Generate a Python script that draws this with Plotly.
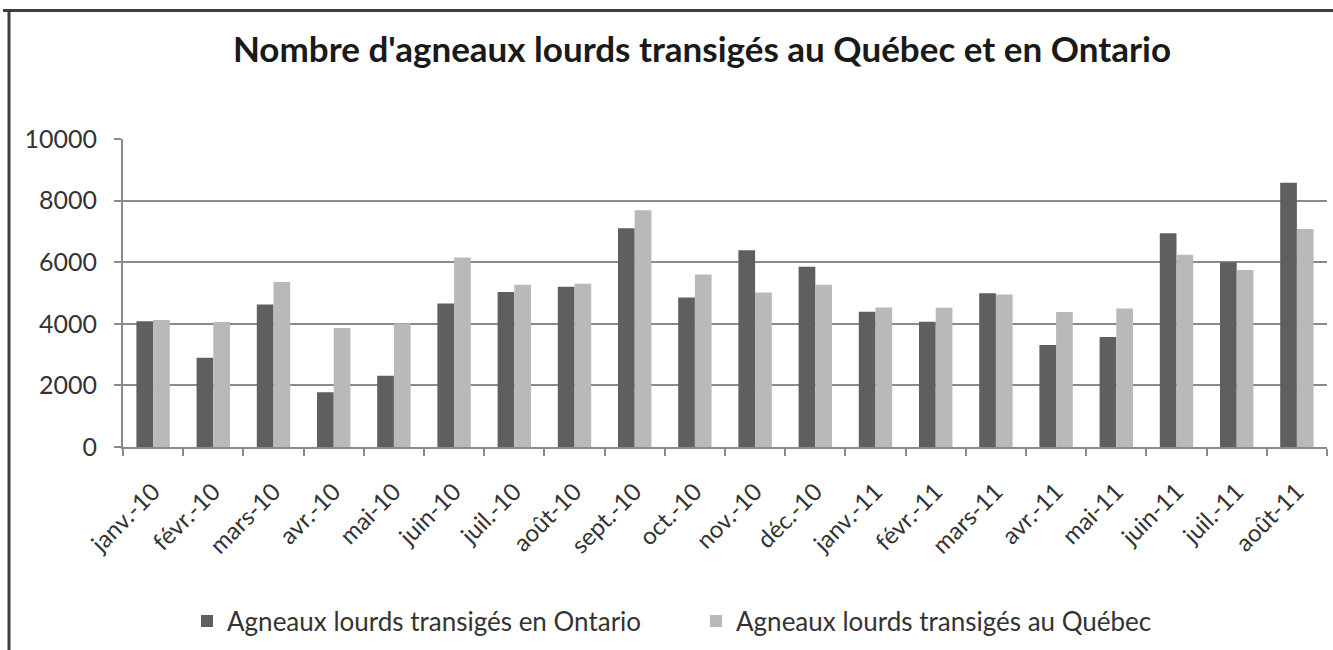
import plotly.graph_objects as go

months = ["janv.-10", "févr.-10", "mars-10", "avr.-10", "mai-10", "juin-10",
          "juil.-10", "août-10", "sept.-10", "oct.-10", "nov.-10", "déc.-10",
          "janv.-11", "févr.-11", "mars-11", "avr.-11", "mai-11", "juin-11",
          "juil.-11", "août-11"]
ontario = [4080, 2900, 4630, 1780, 2310, 4660, 5030, 5200, 7100, 4850,
           6390, 5850, 4390, 4070, 4990, 3310, 3570, 6940, 6000, 8580]
quebec = [4120, 4060, 5360, 3860, 4010, 6150, 5270, 5300, 7690, 5600,
          5020, 5270, 4530, 4520, 4950, 4380, 4500, 6240, 5750, 7080]
y_ticks = [0, 2000, 4000, 6000, 8000, 10000]
y_tick_text = ["0", "2000", "4000", "6000", "8000", "10000"]

title = "Nombre d'agneaux lourds transigés au Québec et en Ontario"
name_on = "Agneaux lourds transigés en Ontario"
name_qc = "Agneaux lourds transigés au Québec"

FONT = "Lato, 'Open Sans', sans-serif"
W, H = 1333, 650
L, R, T, B = 123, 6, 139, 203
pw, ph = W - L - R, H - T - B

fig = go.Figure()
fig.add_trace(go.Bar(x=months, y=ontario, name=name_on,
                     marker=dict(color="#5e5f61", line=dict(width=0))))
fig.add_trace(go.Bar(x=months, y=quebec, name=name_qc,
                     marker=dict(color="#b8b9bb", line=dict(width=0))))

def px_x(p):
    return (p - L) / pw

def px_y(p):
    return (H - B - p) / ph

fig.update_layout(
    width=W, height=H,
    margin=dict(l=L, r=R, t=T, b=B, pad=0),
    paper_bgcolor="white", plot_bgcolor="white",
    barmode="group", bargap=0.445, bargroupgap=0,
    font=dict(family=FONT, color="#333333"),
    title=dict(text=title, x=702 / W, xref="container", xanchor="center",
               y=1 - 50 / H, yref="container", yanchor="middle",
               font=dict(family=FONT, size=35, color="#1a1a1a", weight="bold")),
    showlegend=True,
    legend=dict(orientation="h", x=px_x(187), xanchor="left",
                y=px_y(621), yanchor="middle",
                font=dict(family=FONT, size=26, color="#333333"),
                itemwidth=30, entrywidth=464, entrywidthmode="pixels",
                traceorder="normal", bgcolor="rgba(0,0,0,0)"),
    xaxis=dict(type="category", tickangle=-45, ticks="outside", ticklen=7,
               tickwidth=1.5, tickcolor="#8a8a8a", tickson="boundaries",
               showline=True, linecolor="#8a8a8a", linewidth=2,
               showgrid=False, tickfont=dict(family=FONT, size=24, color="#333333"),
               ticklabelstandoff=19),
    yaxis=dict(range=[0, 10000], tickvals=y_ticks, ticktext=y_tick_text,
               ticks="outside", ticklen=7,
               tickwidth=2, tickcolor="#8a8a8a",
               showline=True, linecolor="#8a8a8a", linewidth=2,
               showgrid=True, gridcolor="#8a8a8a", gridwidth=2,
               zeroline=False,
               tickfont=dict(family=FONT, size=25, color="#333333"),
               ticklabelstandoff=12),
)

# Outer chart frame (top and left edges visible in the reference)
fig.add_shape(type="line", xref="paper", yref="paper",
              x0=px_x(3), x1=px_x(1333), y0=px_y(10.5), y1=px_y(10.5),
              line=dict(color="#3f3f3f", width=3))
fig.add_shape(type="line", xref="paper", yref="paper",
              x0=px_x(9), x1=px_x(9), y0=px_y(10.5), y1=px_y(650),
              line=dict(color="#3f3f3f", width=3))

fig.write_html("out.html", config={"displayModeBar": False},
               post_script="document.body.style.margin='0';")
